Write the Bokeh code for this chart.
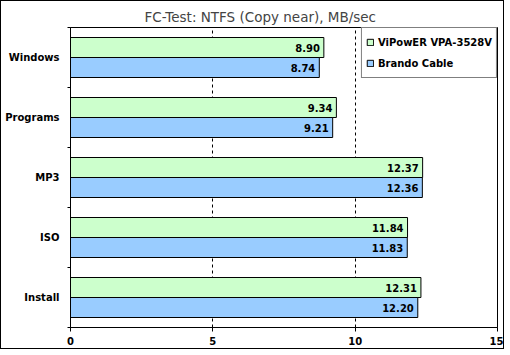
from bokeh.plotting import figure
from bokeh.models import ColumnDataSource, Range1d, FixedTicker, Legend, LegendItem
from bokeh.transform import dodge
from bokeh.core.properties import value
from bokeh.embed import file_html
from bokeh.resources import INLINE

categories = ["Windows", "Programs", "MP3", "ISO", "Install"]
series_names = ["ViPowER VPA-3528V", "Brando Cable"]
vipower = [8.90, 9.34, 12.37, 11.84, 12.31]
brando = [8.74, 9.21, 12.36, 11.83, 12.20]
x_ticks = [0, 5, 10, 15]
grid_ticks = [5, 10]
title_text = "FC-Test: NTFS (Copy near),  MB/sec"

GREEN = "#CCFFCC"
BLUE = "#99CCFF"
FONT = "DejaVu Sans"

n = len(categories)
# category slot positions (top to bottom), centred in each band of the y axis
pos = [n - i - 0.5 for i in range(n)]

src = ColumnDataSource(dict(
    cat=categories,
    pos=pos,
    v=vipower,
    b=brando,
    vl=[f"{x:.2f}" for x in vipower],
    bl=[f"{x:.2f}" for x in brando],
))

p = figure(frame_width=427, frame_height=300,
           y_range=Range1d(0, n),
           x_range=Range1d(0, 15),
           output_backend="svg", toolbar_location=None,
           title=title_text)
p.min_border_left = 69
p.min_border_right = 6
p.min_border_top = 26
p.min_border_bottom = 21
p.background_fill_color = "white"
p.border_fill_color = "white"
p.outline_line_color = "black"
p.outline_line_width = 1
p.styles = {"border": "1px solid black"}

p.title.text_font = FONT
p.title.text_font_style = "normal"
p.title.text_font_size = "13.5px"
p.title.align = "left"
p.title.offset = 74
p.title.standoff = 6

r1 = p.hbar(y=dodge("pos", 1/6), left=0, right="v", height=1/3,
            fill_color=GREEN, line_color="black", line_width=1, source=src)
r2 = p.hbar(y=dodge("pos", -1/6), left=0, right="b", height=1/3,
            fill_color=BLUE, line_color="black", line_width=1, source=src)

for col, off in (("vl", 1/6), ("bl", -1/6)):
    xcol = "v" if col == "vl" else "b"
    p.text(x=xcol, y=dodge("pos", off), text=col,
           text_align="right", text_baseline="middle", x_offset=-4,
           text_font=value(FONT), text_font_style="bold", text_font_size="10px",
           text_color="black", source=src)

p.ygrid.grid_line_color = None
p.xgrid.ticker = FixedTicker(ticks=grid_ticks)
p.xgrid.grid_line_color = "black"
p.xgrid.grid_line_dash = "3 3"
p.xgrid.grid_line_width = 1

p.xaxis.ticker = FixedTicker(ticks=x_ticks)
p.xaxis.major_tick_in = 0
p.xaxis.major_tick_out = 4
p.xaxis.minor_tick_line_color = None
p.xaxis.axis_line_color = "black"
p.xaxis.major_tick_line_color = "black"
p.xaxis.major_label_text_font = FONT
p.xaxis.major_label_text_font_style = "bold"
p.xaxis.major_label_text_font_size = "10px"
p.xaxis.major_label_text_color = "black"
p.xaxis.major_label_standoff = 5

# labels at category centres, tick marks at category boundaries
p.yaxis.ticker = FixedTicker(ticks=pos, minor_ticks=list(range(n + 1)))
p.yaxis.major_label_overrides = {float(y): c for y, c in zip(pos, categories)}
p.yaxis.major_tick_in = 0
p.yaxis.major_tick_out = 0
p.yaxis.minor_tick_in = 0
p.yaxis.minor_tick_out = 3
p.yaxis.minor_tick_line_color = "black"
p.yaxis.axis_line_color = "black"
p.yaxis.major_label_text_font = FONT
p.yaxis.major_label_text_font_style = "bold"
p.yaxis.major_label_text_font_size = "10px"
p.yaxis.major_label_text_color = "black"
p.yaxis.major_label_standoff = 8

legend = Legend(items=[LegendItem(label=series_names[0], renderers=[r1]),
                       LegendItem(label=series_names[1], renderers=[r2])],
                location="top_right")
legend.margin = 0
legend.padding = 4
legend.spacing = 1
legend.glyph_width = 8
legend.glyph_height = 8
legend.label_height = 20
legend.label_standoff = 4
legend.label_text_font = FONT
legend.label_text_font_style = "bold"
legend.label_text_font_size = "10px"
legend.label_text_color = "black"
legend.border_line_color = "black"
legend.border_line_width = 1
legend.background_fill_color = "white"
legend.background_fill_alpha = 1
p.add_layout(legend)

open("out.html", "w").write(file_html(p, INLINE))
